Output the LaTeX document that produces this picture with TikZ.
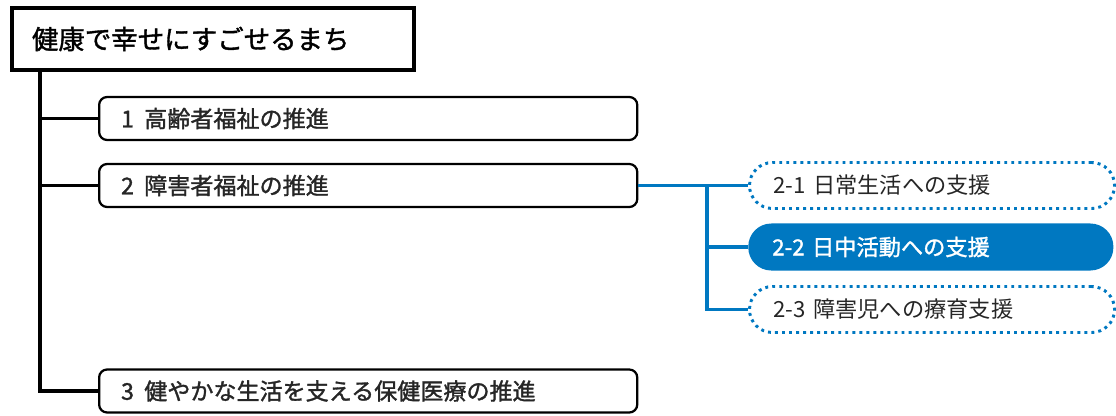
\documentclass[tikz,border=0pt]{standalone}
\usepackage{fontspec}
\setmainfont{Noto Sans CJK JP}
\newfontfamily\jpbold[FakeBold=1.4]{Noto Sans CJK JP}
\usepackage{tikz}
\usetikzlibrary{positioning}
\definecolor{planblue}{HTML}{0078C1}
\definecolor{plantext}{HTML}{262626}

\begin{document}
\begin{tikzpicture}[x=0.025cm, y=-0.025cm,
  titlebox/.style={draw, line width=2.8pt, rectangle, anchor=west, minimum width=10.05cm, minimum height=1.55cm, text width=9.05cm, inner xsep=0.5cm, align=left, font=\jpbold\fontsize{18.8}{20}\selectfont},
  mainbox/.style={draw, line width=1.6pt, rounded corners=0.2cm, anchor=west, minimum width=13.45cm, minimum height=1.075cm, text width=12.35cm, inner xsep=0.55cm, align=left, font=\jpbold\fontsize{16.4}{18}\selectfont, text=plantext},
  subbox/.style={draw=planblue, line width=2.1pt, dash pattern=on 2.1pt off 2.9pt, rounded corners=0.575cm, anchor=west, minimum width=9.125cm, minimum height=1.15cm, text width=7.925cm, inner xsep=0.6cm, align=left, font=\fontsize{15.8}{18}\selectfont, text=plantext},
  subsel/.style={fill=planblue, rounded corners=0.575cm, anchor=west, minimum width=9.125cm, minimum height=1.175cm, text width=7.925cm, inner xsep=0.6cm, align=left, font=\jpbold\fontsize{15.8}{18}\selectfont, text=white},
  trunkline/.style={line width=2.8pt, black},
  blueline/.style={line width=2.2pt, planblue}
]
\useasboundingbox (0,0) rectangle (1116,415);

% Top box and the three policies
\node[titlebox] (goal) at (10,39) {健康で幸せにすごせるまち};
\node[mainbox]  (b1)   at (98,118.5) {1\hspace{0.45em}高齢者福祉の推進};
\node[mainbox]  (b2)   at (98,185.5) {2\hspace{0.45em}障害者福祉の推進};
\node[mainbox]  (b3)   at (98,391)   {3\hspace{0.45em}健やかな生活を支える保健医療の推進};

% Measures under policy 2
\node[subbox] (s1) at (748,185.5) {2-1 日常生活への支援};
\node[subsel] (s2) at (748,247)   {2-2 日中活動への支援};
\node[subbox] (s3) at (748,309.5) {2-3 障害児への療育支援};

% Black tree
\coordinate (trunk) at (40,70);
\draw[trunkline] (trunk) |- (b3.west);
\draw[trunkline] (trunk |- b1.west) -- (b1.west);
\draw[trunkline] (trunk |- b2.west) -- (b2.west);

% Blue branch
\coordinate (fork) at (707,185.5);
\draw[blueline] (b2.east) -- (s1.west);
\draw[blueline] (fork) |- (s3.west);
\draw[blueline] (fork |- s2.west) -- (s2.west);
\end{tikzpicture}
\end{document}
